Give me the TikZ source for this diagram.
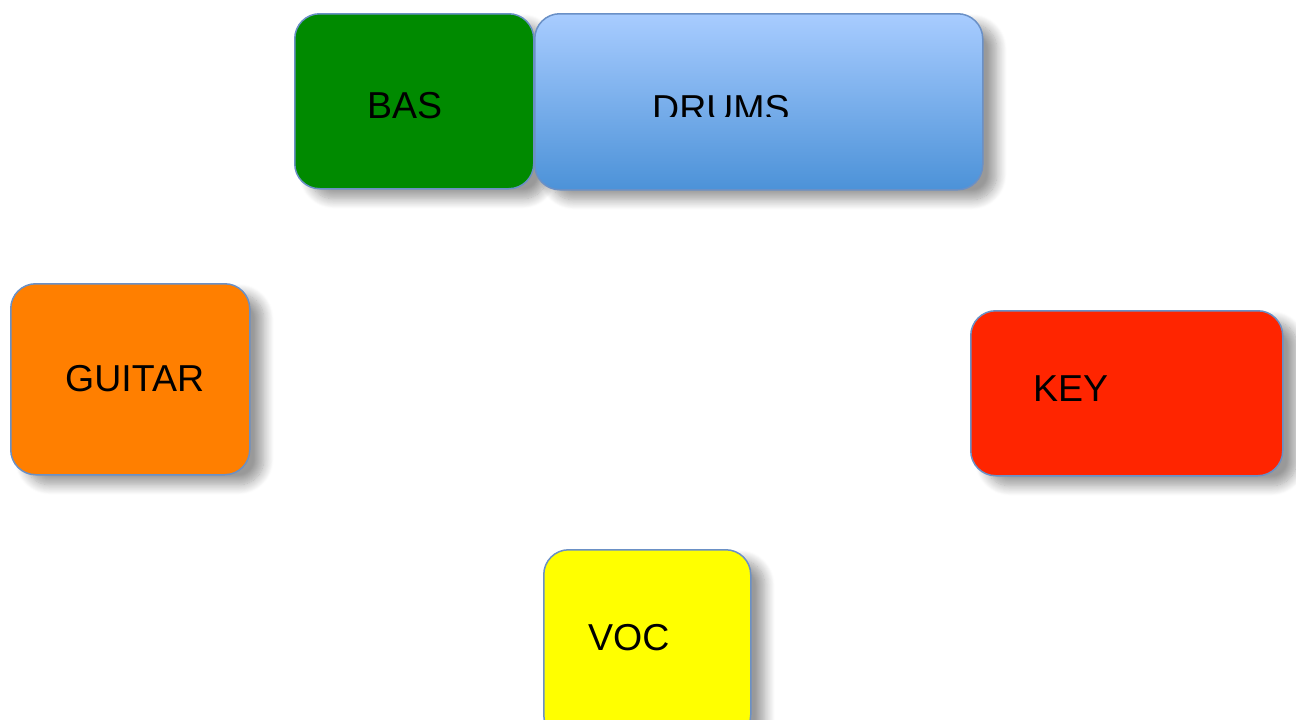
\documentclass[tikz,border=0pt]{standalone}
\usepackage{fontspec}
\setmainfont{Liberation Sans}
\usetikzlibrary{shadows.blur}
\definecolor{edgeblue}{HTML}{6A90C6}
\definecolor{basgreen}{HTML}{008A00}
\definecolor{drumtop}{HTML}{A8CCFF}
\definecolor{drumbot}{HTML}{4C92D8}
\definecolor{guitarorange}{HTML}{FF7F00}
\definecolor{keyred}{HTML}{FF2500}
\definecolor{vocyellow}{HTML}{FFFF00}
\tikzset{
  box/.style={draw=edgeblue, line width=1.5pt, rounded corners=25pt, rectangle,
    anchor=north west, inner sep=0pt,
    blur shadow={shadow xshift=14pt, shadow yshift=-10pt, shadow blur radius=10pt, shadow opacity=40, shadow blur steps=12}},
  lbl/.style={anchor=base west, inner sep=0pt, font=\fontsize{37.5}{40}\selectfont, text=black}
}
\begin{document}
\begin{tikzpicture}[x=1pt,y=-1pt]
\useasboundingbox (0,0) rectangle (1296,720);
\clip (0,0) rectangle (1296,720);
\node[box, fill=basgreen, minimum width=239pt, minimum height=175pt] (bas) at (294,13) {};
\node[box, top color=drumtop, bottom color=drumbot, minimum width=448pt, minimum height=176pt] (drums) at (534,13) {};
\node[box, fill=guitarorange, minimum width=239pt, minimum height=191pt] (guitar) at (10,283) {};
\node[box, fill=keyred, minimum width=312pt, minimum height=165pt] (key) at (970,310) {};
\node[box, fill=vocyellow, minimum width=207pt, minimum height=190pt] (voc) at (543,549) {};
\node[lbl] (tbas) at (367,118) {BAS};
\begin{scope}
\clip (600,60) rectangle (850,116);
\node[lbl] (tdrums) at (652,121) {DRUMS};
\end{scope}
\node[lbl] (tguitar) at (65,391) {GUITAR};
\node[lbl] (tkey) at (1033,401) {KEY};
\node[lbl] (tvoc) at (588,650) {VOC};
\end{tikzpicture}
\end{document}
